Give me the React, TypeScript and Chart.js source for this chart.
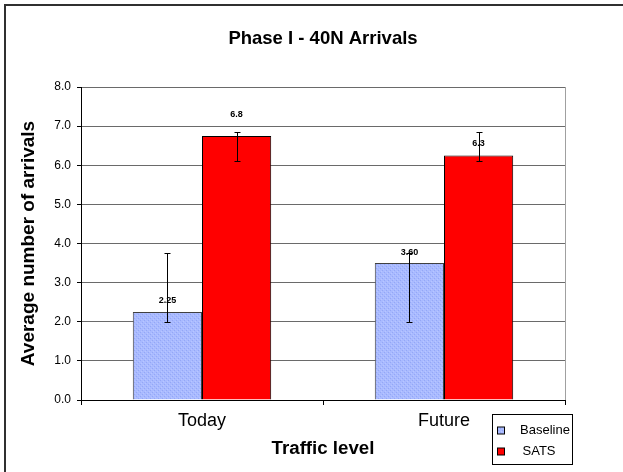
import React, { useEffect, useRef } from 'react';
import { Chart, registerables } from 'chart.js';

Chart.register(...registerables);

const chartTitle = 'Phase I - 40N Arrivals';
const xTitle = 'Traffic level';
const yTitle = 'Average number of arrivals';
const categories = ['Today', 'Future'];
const seriesNames = ['Baseline', 'SATS'];
const baselineValues = [2.25, 3.5];
const satsValues = [6.75, 6.25];
const baselineErrLow = [2.0, 2.0];
const baselineErrHigh = [3.75, 3.75];
const satsErrLow = [6.12, 6.12];
const satsErrHigh = [6.84, 6.84];
const baselineLabels = ['2.25', '3.60'];
const satsLabels = ['6.8', '6.3'];
const yMin = 0;
const yMax = 8;
const yStep = 1;

const FONT = '"Liberation Sans", Arial, sans-serif';

function makePattern(): CanvasPattern | string {
  const c = document.createElement('canvas');
  c.width = 4;
  c.height = 4;
  const g = c.getContext('2d');
  if (!g) return '#a4b6ff';
  g.fillStyle = '#a9baff';
  g.fillRect(0, 0, 4, 4);
  g.fillStyle = '#94a7f6';
  g.fillRect(0, 0, 1, 1);
  g.fillRect(2, 2, 1, 1);
  g.fillStyle = '#b8c6ff';
  g.fillRect(1, 3, 1, 1);
  g.fillRect(3, 1, 1, 1);
  const p = g.createPattern(c, 'repeat');
  return p || '#a4b6ff';
}

export default function App() {
  const ref = useRef<HTMLCanvasElement | null>(null);

  useEffect(() => {
    if (!ref.current) return;
    const pattern = makePattern();
    const errLow = [baselineErrLow, satsErrLow];
    const errHigh = [baselineErrHigh, satsErrHigh];
    const valueLabels = [baselineLabels, satsLabels];
    const labelRaise = [
      [11, 11],
      [21, 12],
    ];

    const framePlugin = {
      id: 'frame',
      beforeDraw(chart: any) {
        const ctx = chart.ctx;
        ctx.save();
        ctx.fillStyle = '#ffffff';
        ctx.fillRect(0, 0, chart.width, chart.height);
        ctx.strokeStyle = '#303030';
        ctx.lineWidth = 2;
        ctx.strokeRect(5, 5, chart.width + 20, chart.height + 20);
        ctx.restore();
      },
      afterDraw(chart: any) {
        const ctx = chart.ctx;
        const a = chart.chartArea;
        ctx.save();
        ctx.strokeStyle = '#a0a0a0';
        ctx.lineWidth = 1;
        ctx.beginPath();
        ctx.moveTo(Math.round(a.right) + 0.5, a.top);
        ctx.lineTo(Math.round(a.right) + 0.5, a.bottom);
        ctx.stroke();
        ctx.restore();
      },
    };

    const errorPlugin = {
      id: 'errs',
      afterDatasetsDraw(chart: any) {
        const ctx = chart.ctx;
        const ys = chart.scales.y;
        ctx.save();
        ctx.strokeStyle = '#000000';
        ctx.lineWidth = 1;
        chart.data.datasets.forEach((ds: any, i: number) => {
          const meta = chart.getDatasetMeta(i);
          meta.data.forEach((bar: any, j: number) => {
            const x = Math.round(bar.x) + 0.5;
            const yl = Math.round(ys.getPixelForValue(errLow[i][j])) + 0.5;
            const yh = Math.round(ys.getPixelForValue(errHigh[i][j])) + 0.5;
            ctx.beginPath();
            ctx.moveTo(x, yl);
            ctx.lineTo(x, yh);
            ctx.moveTo(x - 3, yl);
            ctx.lineTo(x + 3, yl);
            ctx.moveTo(x - 3, yh);
            ctx.lineTo(x + 3, yh);
            ctx.stroke();
          });
        });
        ctx.fillStyle = '#000000';
        ctx.font = `bold 9px ${FONT}`;
        ctx.textAlign = 'center';
        ctx.textBaseline = 'middle';
        chart.data.datasets.forEach((ds: any, i: number) => {
          const meta = chart.getDatasetMeta(i);
          meta.data.forEach((bar: any, j: number) => {
            ctx.fillText(valueLabels[i][j], bar.x, bar.y - labelRaise[i][j]);
          });
        });
        ctx.restore();
      },
    };

    const legendPlugin = {
      id: 'boxLegend',
      afterDraw(chart: any) {
        const ctx = chart.ctx;
        ctx.save();
        const bx = 492.5;
        const by = 414.5;
        const bw = 80;
        const bh = 50;
        ctx.fillStyle = '#ffffff';
        ctx.fillRect(bx, by, bw, bh);
        ctx.strokeStyle = '#000000';
        ctx.lineWidth = 1;
        ctx.strokeRect(bx, by, bw, bh);
        ctx.font = `13px ${FONT}`;
        ctx.textAlign = 'left';
        ctx.textBaseline = 'middle';
        chart.data.datasets.forEach((ds: any, i: number) => {
          const cy = 430.5 + i * 21;
          ctx.fillStyle = ds.backgroundColor;
          ctx.fillRect(497.5, cy - 3.5, 7, 7);
          ctx.strokeStyle = '#000000';
          ctx.strokeRect(497.5, cy - 3.5, 7, 7);
          ctx.fillStyle = '#000000';
          ctx.fillText(ds.label, i === 0 ? 520 : 522.5, cy);
        });
        ctx.restore();
      },
    };

    const chart = new Chart(ref.current, {
      type: 'bar',
      data: {
        labels: categories,
        datasets: [
          {
            label: seriesNames[0],
            data: baselineValues,
            backgroundColor: pattern as any,
            borderColor: '#404040',
            borderWidth: 1,
            categoryPercentage: 0.572,
            barPercentage: 1,
          },
          {
            label: seriesNames[1],
            data: satsValues,
            backgroundColor: '#ff0000',
            borderColor: '#000000',
            borderWidth: 1,
            categoryPercentage: 0.572,
            barPercentage: 1,
          },
        ],
      },
      options: {
        animation: false,
        responsive: true,
        maintainAspectRatio: false,
        devicePixelRatio: 1,
        layout: { padding: { left: 0, right: 58, top: 0, bottom: 0 } },
        plugins: {
          legend: { display: false },
          tooltip: { enabled: false },
          title: {
            display: true,
            fullSize: false,
            text: chartTitle,
            color: '#000000',
            font: { family: FONT, size: 18.5, weight: 'bold', lineHeight: 1.2 },
            padding: { top: 28, bottom: 87 - 28 - 22.2 },
          },
        },
        scales: {
          x: {
            grid: {
              display: true,
              drawOnChartArea: false,
              drawTicks: true,
              tickLength: 5,
              tickColor: '#000000',
              offset: true,
            },
            border: { display: true, color: '#000000', width: 1 },
            ticks: {
              color: '#000000',
              font: { family: FONT, size: 18 },
              padding: 5,
            },
            title: {
              display: true,
              text: xTitle,
              color: '#000000',
              font: { family: FONT, size: 18.7, weight: 'bold', lineHeight: 1.2 },
              padding: { top: 0, bottom: 12 },
            },
            afterFit(scale: any) {
              scale.height = 72;
            },
          },
          y: {
            min: yMin,
            max: yMax,
            grid: {
              color: '#6a6a6a',
              tickColor: '#000000',
              tickLength: 4,
              drawTicks: true,
            },
            border: { display: true, color: '#000000', width: 1 },
            ticks: {
              stepSize: yStep,
              color: '#000000',
              font: { family: FONT, size: 12 },
              padding: 6,
              callback: (v: any) => Number(v).toFixed(1),
            },
            title: {
              display: true,
              text: yTitle,
              color: '#000000',
              font: { family: FONT, size: 19, weight: 'bold', lineHeight: 1.2 },
              padding: { top: 17, bottom: 0 },
            },
            afterFit(scale: any) {
              scale.width = 81;
            },
          },
        },
      },
      plugins: [framePlugin, errorPlugin, legendPlugin],
    });
    return () => chart.destroy();
  }, []);

  return (
    <div style={{ position: 'fixed', left: 0, top: 0, width: 623, height: 472, background: '#fff' }}>
      <canvas ref={ref} />
    </div>
  );
}
